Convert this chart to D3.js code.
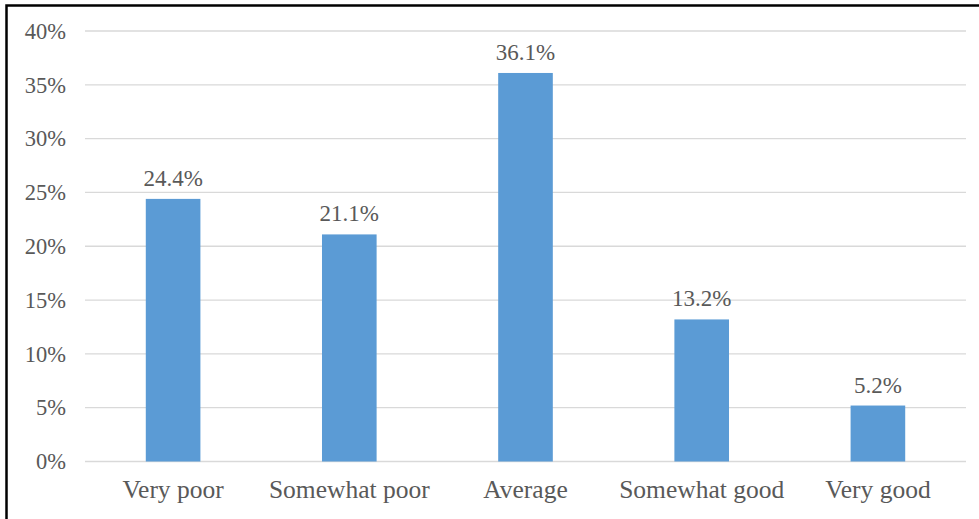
<!DOCTYPE html>
<html>
<head>
<meta charset="utf-8">
<script src="https://cdn.jsdelivr.net/npm/d3@7"></script>
<style>
  html, body { margin: 0; padding: 0; background: #fff; }
  svg { display: block; }
</style>
</head>
<body>
<svg id="chart" width="979" height="519"></svg>
<script>
// Rating categories and their shares (%)
const categories = ["Very poor", "Somewhat poor", "Average", "Somewhat good", "Very good"];
const shares = [24.4, 21.1, 36.1, 13.2, 5.2];
const yTicks = [0, 5, 10, 15, 20, 25, 30, 35, 40];

const svg = d3.select("#chart");
const W = 979, H = 519;
const plotLeft = 85, plotRight = 966, plotTop = 31, plotBottom = 461.5;
const font = "'Liberation Serif', 'Times New Roman', serif";
const textColor = "#595959";

// Frame (left and top edges visible; the rest runs off the canvas)
svg.append("rect")
  .attr("x", 6.5).attr("y", 5.5)
  .attr("width", W + 10).attr("height", H + 10)
  .attr("fill", "none").attr("stroke", "#000").attr("stroke-width", 2.5);

const x = d3.scaleBand().domain(categories).range([plotLeft, plotRight]).padding(0);
const y = d3.scaleLinear().domain([0, 40]).range([plotBottom, plotTop]);
const barW = x.bandwidth() * 0.31;

// Horizontal gridlines
svg.append("g").selectAll("line")
  .data(yTicks).join("line")
  .attr("x1", plotLeft).attr("x2", plotRight)
  .attr("y1", d => y(d)).attr("y2", d => y(d))
  .attr("stroke", "#d9d9d9").attr("stroke-width", 1.3);

// Y axis tick labels
const yAxis = d3.axisLeft(y).tickValues(yTicks).tickFormat(d => d + "%").tickSize(0).tickPadding(0);
const gy = svg.append("g").attr("transform", "translate(66,0)").call(yAxis);
gy.select(".domain").remove();
gy.selectAll("text")
  .attr("font-family", font).attr("font-size", 22.5).attr("fill", textColor);

// Bars
svg.append("g").selectAll("rect")
  .data(shares).join("rect")
  .attr("x", (d, i) => x(categories[i]) + x.bandwidth() / 2 - barW / 2)
  .attr("y", d => y(d))
  .attr("width", barW)
  .attr("height", d => y(0) - y(d))
  .attr("fill", "#5B9BD5");

// Value labels
svg.append("g").selectAll("text")
  .data(shares).join("text")
  .attr("x", (d, i) => x(categories[i]) + x.bandwidth() / 2)
  .attr("y", d => y(d) - 13)
  .attr("text-anchor", "middle")
  .attr("font-family", font).attr("font-size", 23).attr("fill", textColor)
  .text(d => d.toFixed(1) + "%");

// Category labels
const xAxis = d3.axisBottom(x).tickSize(0).tickPadding(0);
const gx = svg.append("g").attr("transform", `translate(0,${plotBottom})`).call(xAxis);
gx.select(".domain").remove();
gx.selectAll("text")
  .attr("font-family", font).attr("font-size", 25.5).attr("fill", textColor)
  .attr("dy", 0).attr("y", 36);
</script>
</body>
</html>
